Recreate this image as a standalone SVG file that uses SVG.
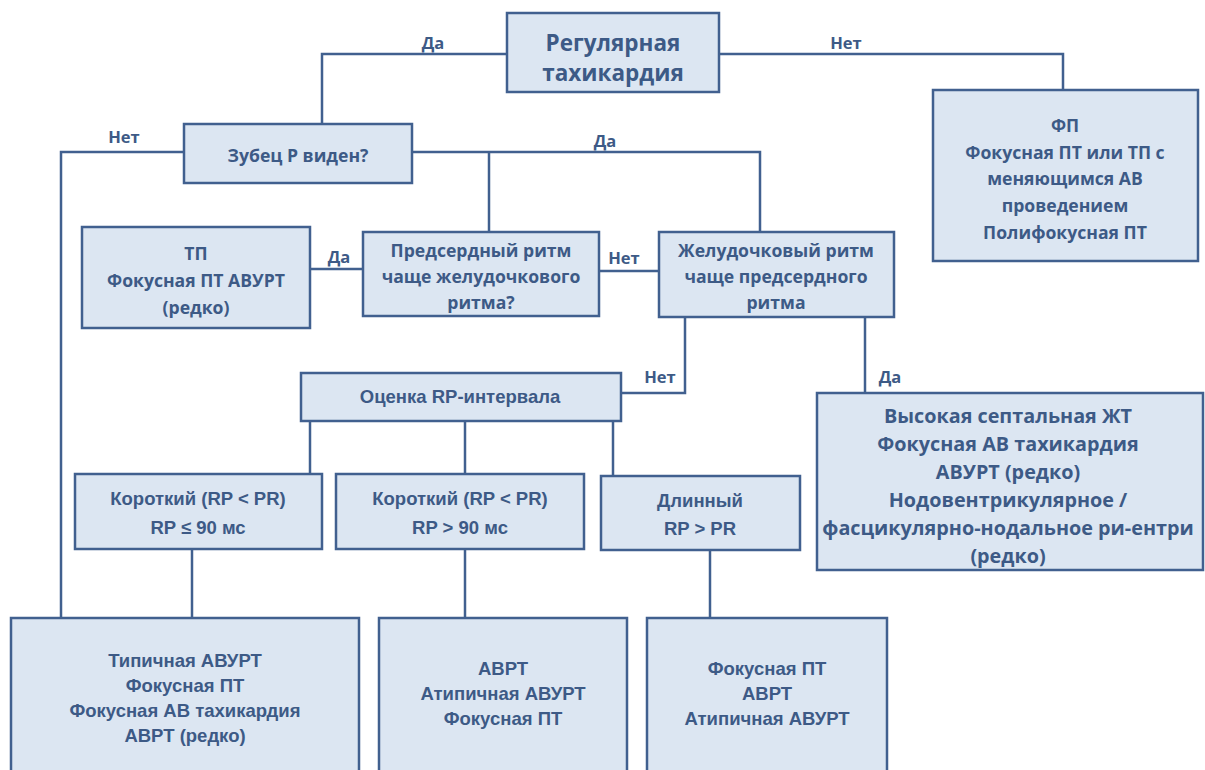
<svg xmlns="http://www.w3.org/2000/svg" width="1205" height="770" viewBox="0 0 1205 770">
<style>
.box{fill:#dce6f2;stroke:#41608f;stroke-width:2.5}
.ln{fill:none;stroke:#41608f;stroke-width:2.5}
text{font-family:"Open Sans","DejaVu Sans",sans-serif;font-weight:bold;fill:#3d5a86;text-anchor:middle;dominant-baseline:central}
.t18{font-size:22.5px}
.t15{font-size:17.6px}
.t17{font-size:19.8px}
.lb{font-size:16.5px}
.c{font-family:"Liberation Sans",Arial,sans-serif;font-size:18.5px}
</style>
<rect width="1205" height="770" fill="#ffffff"/>
<g id="connectors">
<polyline class="ln" points="507,54 322,54 322,124"/>
<polyline class="ln" points="719,54 1063,54 1063,90"/>
<polyline class="ln" points="184,152 61,152 61,618"/>
<polyline class="ln" points="412,152 760,152 760,232"/>
<line class="ln" x1="489" y1="152" x2="489" y2="232"/>
<line class="ln" x1="310" y1="269" x2="363" y2="269"/>
<line class="ln" x1="599" y1="271" x2="659" y2="271"/>
<polyline class="ln" points="685,317 685,393 621,393"/>
<line class="ln" x1="865" y1="317" x2="865" y2="393"/>
<line class="ln" x1="310" y1="421" x2="310" y2="474"/>
<line class="ln" x1="465" y1="421" x2="465" y2="474"/>
<line class="ln" x1="613" y1="421" x2="613" y2="476"/>
<line class="ln" x1="192" y1="549" x2="192" y2="618"/>
<line class="ln" x1="465" y1="549" x2="465" y2="618"/>
<line class="ln" x1="710" y1="550" x2="710" y2="618"/>
<text class="lb" x="433" y="42">Да</text>
<text class="lb" x="846" y="42">Нет</text>
<text class="lb" x="124" y="136">Нет</text>
<text class="lb" x="605" y="140">Да</text>
<text class="lb" x="339" y="256">Да</text>
<text class="lb" x="624" y="257">Нет</text>
<text class="lb" x="660" y="376">Нет</text>
<text class="lb" x="890" y="376">Да</text>
</g>
<g id="n-regular">
<rect class="box" x="507" y="13" width="212" height="79"/>
<text class="t18" x="613" y="42">Регулярная</text>
<text class="t18" x="613" y="72">тахикардия</text>
</g>
<g id="n-fp">
<rect class="box" x="933" y="90" width="265" height="171"/>
<text class="t15" x="1065" y="125">ФП</text>
<text class="t15" x="1065" y="152">Фокусная ПТ или ТП с</text>
<text class="t15" x="1065" y="178">меняющимся АВ</text>
<text class="t15" x="1065" y="205">проведением</text>
<text class="t15" x="1065" y="232">Полифокусная ПТ</text>
</g>
<g id="n-pwave">
<rect class="box" x="184" y="124" width="228" height="59"/>
<text class="t15" x="298" y="155">Зубец Р виден?</text>
</g>
<g id="n-tp">
<rect class="box" x="82" y="227" width="228" height="101"/>
<text class="t15" x="196" y="253">ТП</text>
<text class="t15" x="196" y="280">Фокусная ПТ АВУРТ</text>
<text class="t15" x="196" y="307">(редко)</text>
</g>
<g id="n-atrial">
<rect class="box" x="363" y="232" width="236" height="84"/>
<text class="t15" x="481" y="250">Предсердный ритм</text>
<text class="t15" x="481" y="276">чаще желудочкового</text>
<text class="t15" x="481" y="302">ритма?</text>
</g>
<g id="n-ventr">
<rect class="box" x="659" y="232" width="235" height="85"/>
<text class="t15" x="776" y="250">Желудочковый ритм</text>
<text class="t15" x="776" y="276">чаще предсердного</text>
<text class="t15" x="776" y="302">ритма</text>
</g>
<g id="n-rp">
<rect class="box" x="301" y="373" width="320" height="48"/>
<text class="c" x="460" y="396">Оценка RP-интервала</text>
</g>
<g id="n-high">
<rect class="box" x="817" y="393" width="386" height="177"/>
<text class="t17" x="1008" y="415">Высокая септальная ЖТ</text>
<text class="t17" x="1008" y="443">Фокусная АВ тахикардия</text>
<text class="t17" x="1008" y="471">АВУРТ (редко)</text>
<text class="t17" x="1008" y="499">Нодовентрикулярное /</text>
<text class="t17" x="1008" y="527">фасцикулярно-нодальное ри-ентри</text>
<text class="t17" x="1008" y="555">(редко)</text>
</g>
<g id="n-short1">
<rect class="box" x="75" y="474" width="247" height="75"/>
<text class="c" x="198" y="498">Короткий (RP &lt; PR)</text>
<text class="c" x="198" y="527">RP ≤ 90 мс</text>
</g>
<g id="n-short2">
<rect class="box" x="336" y="474" width="248" height="75"/>
<text class="c" x="460" y="498">Короткий (RP &lt; PR)</text>
<text class="c" x="460" y="527">RP &gt; 90 мс</text>
</g>
<g id="n-long">
<rect class="box" x="601" y="476" width="199" height="74"/>
<text class="c" x="700" y="500">Длинный</text>
<text class="c" x="700" y="528">RP &gt; PR</text>
</g>
<g id="n-res1">
<rect class="box" x="11" y="618" width="348" height="160"/>
<text class="c" x="185" y="660">Типичная АВУРТ</text>
<text class="c" x="185" y="685">Фокусная ПТ</text>
<text class="c" x="185" y="710">Фокусная АВ тахикардия</text>
<text class="c" x="185" y="735">АВРТ (редко)</text>
</g>
<g id="n-res2">
<rect class="box" x="379" y="618" width="248" height="160"/>
<text class="c" x="503" y="668">АВРТ</text>
<text class="c" x="503" y="693">Атипичная АВУРТ</text>
<text class="c" x="503" y="718">Фокусная ПТ</text>
</g>
<g id="n-res3">
<rect class="box" x="647" y="618" width="240" height="160"/>
<text class="c" x="767" y="668">Фокусная ПТ</text>
<text class="c" x="767" y="693">АВРТ</text>
<text class="c" x="767" y="718">Атипичная АВУРТ</text>
</g>
</svg>
